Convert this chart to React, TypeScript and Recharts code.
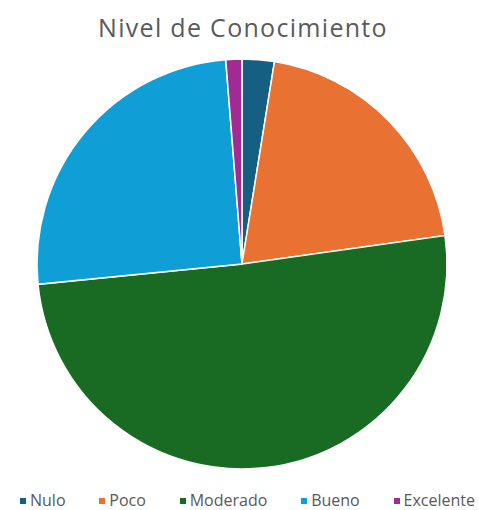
import { PieChart, Pie, Cell, Legend } from 'recharts';

// Respuestas por nivel (N = 79)
const niveles = ['Nulo', 'Poco', 'Moderado', 'Bueno', 'Excelente'];
const respuestas = [2, 16, 40, 20, 1];
const colores = ['#156082', '#E97132', '#196B24', '#0F9ED5', '#A02B93'];

const data = niveles.map((name, i) => ({ name, value: respuestas[i], color: colores[i] }));

const FONT = '"Open Sans", "Noto Sans", sans-serif';

function LegendRow() {
  return (
    <div
      style={{
        display: 'flex',
        justifyContent: 'space-between',
        alignItems: 'center',
        width: 455,
        marginLeft: 20,
        fontFamily: FONT,
        fontSize: 16,
        lineHeight: '17px',
        color: '#595959',
      }}
    >
      {data.map((d) => (
        <div key={d.name} style={{ display: 'flex', alignItems: 'center' }}>
          <span style={{ width: 6, height: 6, background: d.color, marginRight: 4, display: 'inline-block' }} />
          <span>{d.name}</span>
        </div>
      ))}
    </div>
  );
}

export default function App() {
  return (
    <div style={{ position: 'absolute', left: 0, top: 0, width: 479, height: 510, background: '#fff' }}>
      <div
        style={{
          position: 'absolute',
          top: 10,
          left: 0,
          width: 486,
          textAlign: 'center',
          fontFamily: FONT,
          fontSize: 25,
          color: '#5a5a5a',
          letterSpacing: 1.3,
        }}
      >
        Nivel de Conocimiento
      </div>
      <PieChart width={479} height={510}>
        <Pie
          data={data}
          dataKey="value"
          nameKey="name"
          cx={237}
          cy={259}
          outerRadius={205}
          startAngle={90}
          endAngle={-270}
          stroke="#ffffff"
          strokeWidth={1.5}
          isAnimationActive={false}
        >
          {data.map((d) => (
            <Cell key={d.name} fill={d.color} />
          ))}
        </Pie>
        <Legend
          content={() => <LegendRow />}
          wrapperStyle={{ position: 'absolute', top: 492, left: 0, width: 479 }}
        />
      </PieChart>
    </div>
  );
}
